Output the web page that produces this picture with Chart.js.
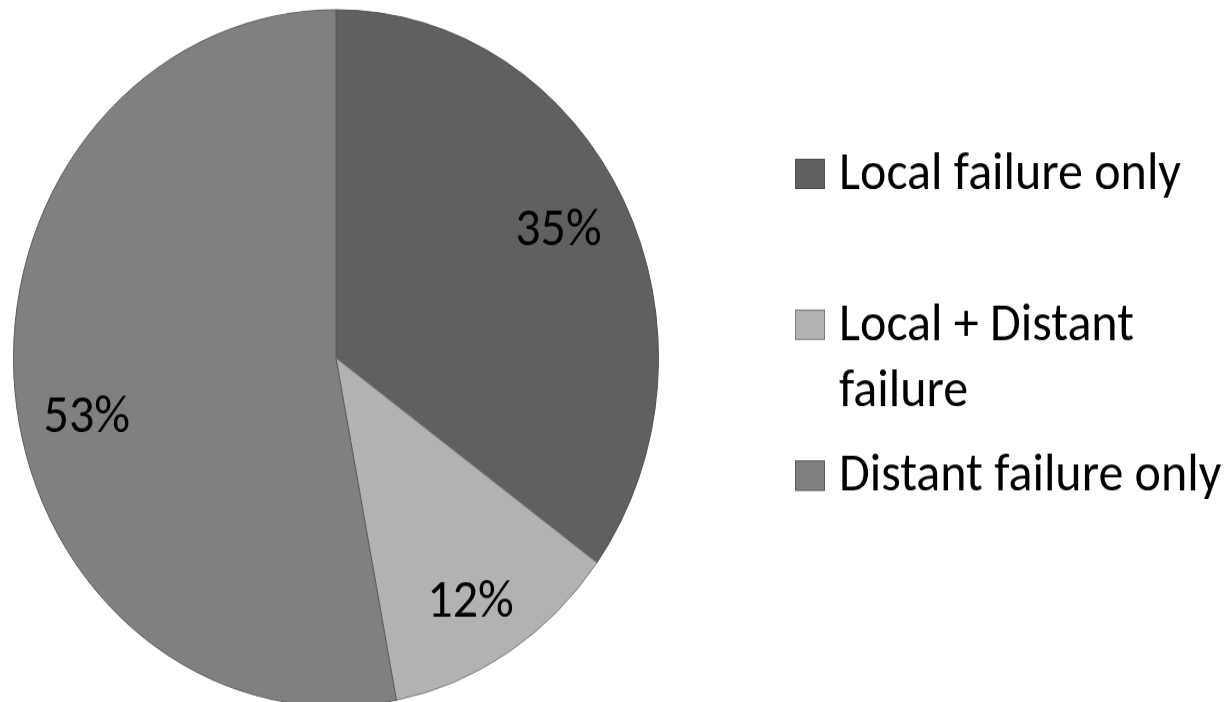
<!DOCTYPE html>
<html>
<head>
<meta charset="utf-8">
<script src="https://cdn.jsdelivr.net/npm/chart.js@4/dist/chart.umd.min.js"></script>
<style>
  html, body { margin: 0; padding: 0; background: #fff; width: 1231px; height: 702px; overflow: hidden; }
  #wrap { width: 1231px; height: 660px; transform: scaleY(1.08); transform-origin: 0 0; }
</style>
</head>
<body>
<div id="wrap"><canvas id="chart" width="1231" height="660"></canvas></div>
<script>
// Outcome categories and their shares (%)
const categories = ['Local failure only', 'Local + Distant failure', 'Distant failure only'];
const shares = [35, 12, 53];
const sliceColors = ['#606060', '#b2b2b2', '#808080'];
const edgeColors = ['#4f4f4f', '#7c7c7c', '#5c5c5c'];

// Percentage label placement per slice: radial fraction and angular nudge (degrees)
const labelRadius = [0.785, 0.81, 0.79];
const labelNudge = [-1.5, 1.4, -6.6];

const FONT = '"Carlito", "Lato", sans-serif';
const FONT_SIZE = 50;

// Percentage labels drawn inside each slice, centred on the digits
const sliceLabels = {
  id: 'sliceLabels',
  afterDatasetsDraw(chart) {
    const ctx = chart.ctx;
    const meta = chart.getDatasetMeta(0);
    ctx.save();
    ctx.font = FONT_SIZE + 'px ' + FONT;
    ctx.fillStyle = '#000';
    ctx.textAlign = 'center';
    ctx.textBaseline = 'alphabetic';
    const capHalf = ctx.measureText('0').actualBoundingBoxAscent / 2;
    meta.data.forEach((arc, i) => {
      const p = arc.getProps(['x', 'y', 'startAngle', 'endAngle', 'outerRadius'], true);
      const mid = (p.startAngle + p.endAngle) / 2 + labelNudge[i] * Math.PI / 180;
      const r = p.outerRadius * labelRadius[i];
      const v = chart.data.datasets[0].data[i];
      ctx.fillText(v + '%', p.x + Math.cos(mid) * r, p.y + Math.sin(mid) * r + capHalf);
    });
    ctx.restore();
  }
};

// Legend on the right with wrapped entries
const sideLegend = {
  id: 'sideLegend',
  afterDraw(chart) {
    const ctx = chart.ctx;
    const ds = chart.data.datasets[0];
    const boxX = 795, boxW = 30, boxH = 28;
    const textX = 839, firstBaseline = 175, pitch = 139.7, lineGap = 61;
    const maxW = chart.width - textX;
    ctx.save();
    ctx.font = FONT_SIZE + 'px ' + FONT;
    ctx.textBaseline = 'alphabetic';
    ctx.textAlign = 'left';
    chart.data.labels.forEach((label, i) => {
      const base = firstBaseline + i * pitch;
      // wrap words into lines that fit the space on the right
      const words = label.split(' ');
      const lines = [];
      let cur = '';
      words.forEach(w => {
        const t = cur ? cur + ' ' + w : w;
        if (ctx.measureText(t).width > maxW && cur) { lines.push(cur); cur = w; }
        else cur = t;
      });
      if (cur) lines.push(cur);
      ctx.fillStyle = ds.backgroundColor[i];
      ctx.fillRect(boxX, base - boxH, boxW, boxH);
      ctx.strokeStyle = ds.borderColor[i];
      ctx.lineWidth = 1;
      ctx.strokeRect(boxX + 0.5, base - boxH + 0.5, boxW - 1, boxH - 1);
      ctx.fillStyle = '#000';
      lines.forEach((ln, k) => ctx.fillText(ln, textX, base + k * lineGap));
    });
    ctx.restore();
  }
};

new Chart(document.getElementById('chart'), {
  type: 'pie',
  data: {
    labels: categories,
    datasets: [{
      data: shares,
      backgroundColor: sliceColors,
      borderColor: edgeColors,
      borderWidth: 1
    }]
  },
  options: {
    responsive: false,
    animation: false,
    layout: { padding: { left: 13, right: 572, top: 8.5, bottom: 5.5 } },
    plugins: {
      legend: { display: false },
      tooltip: { enabled: false }
    }
  },
  plugins: [sliceLabels, sideLegend]
});
</script>
</body>
</html>
